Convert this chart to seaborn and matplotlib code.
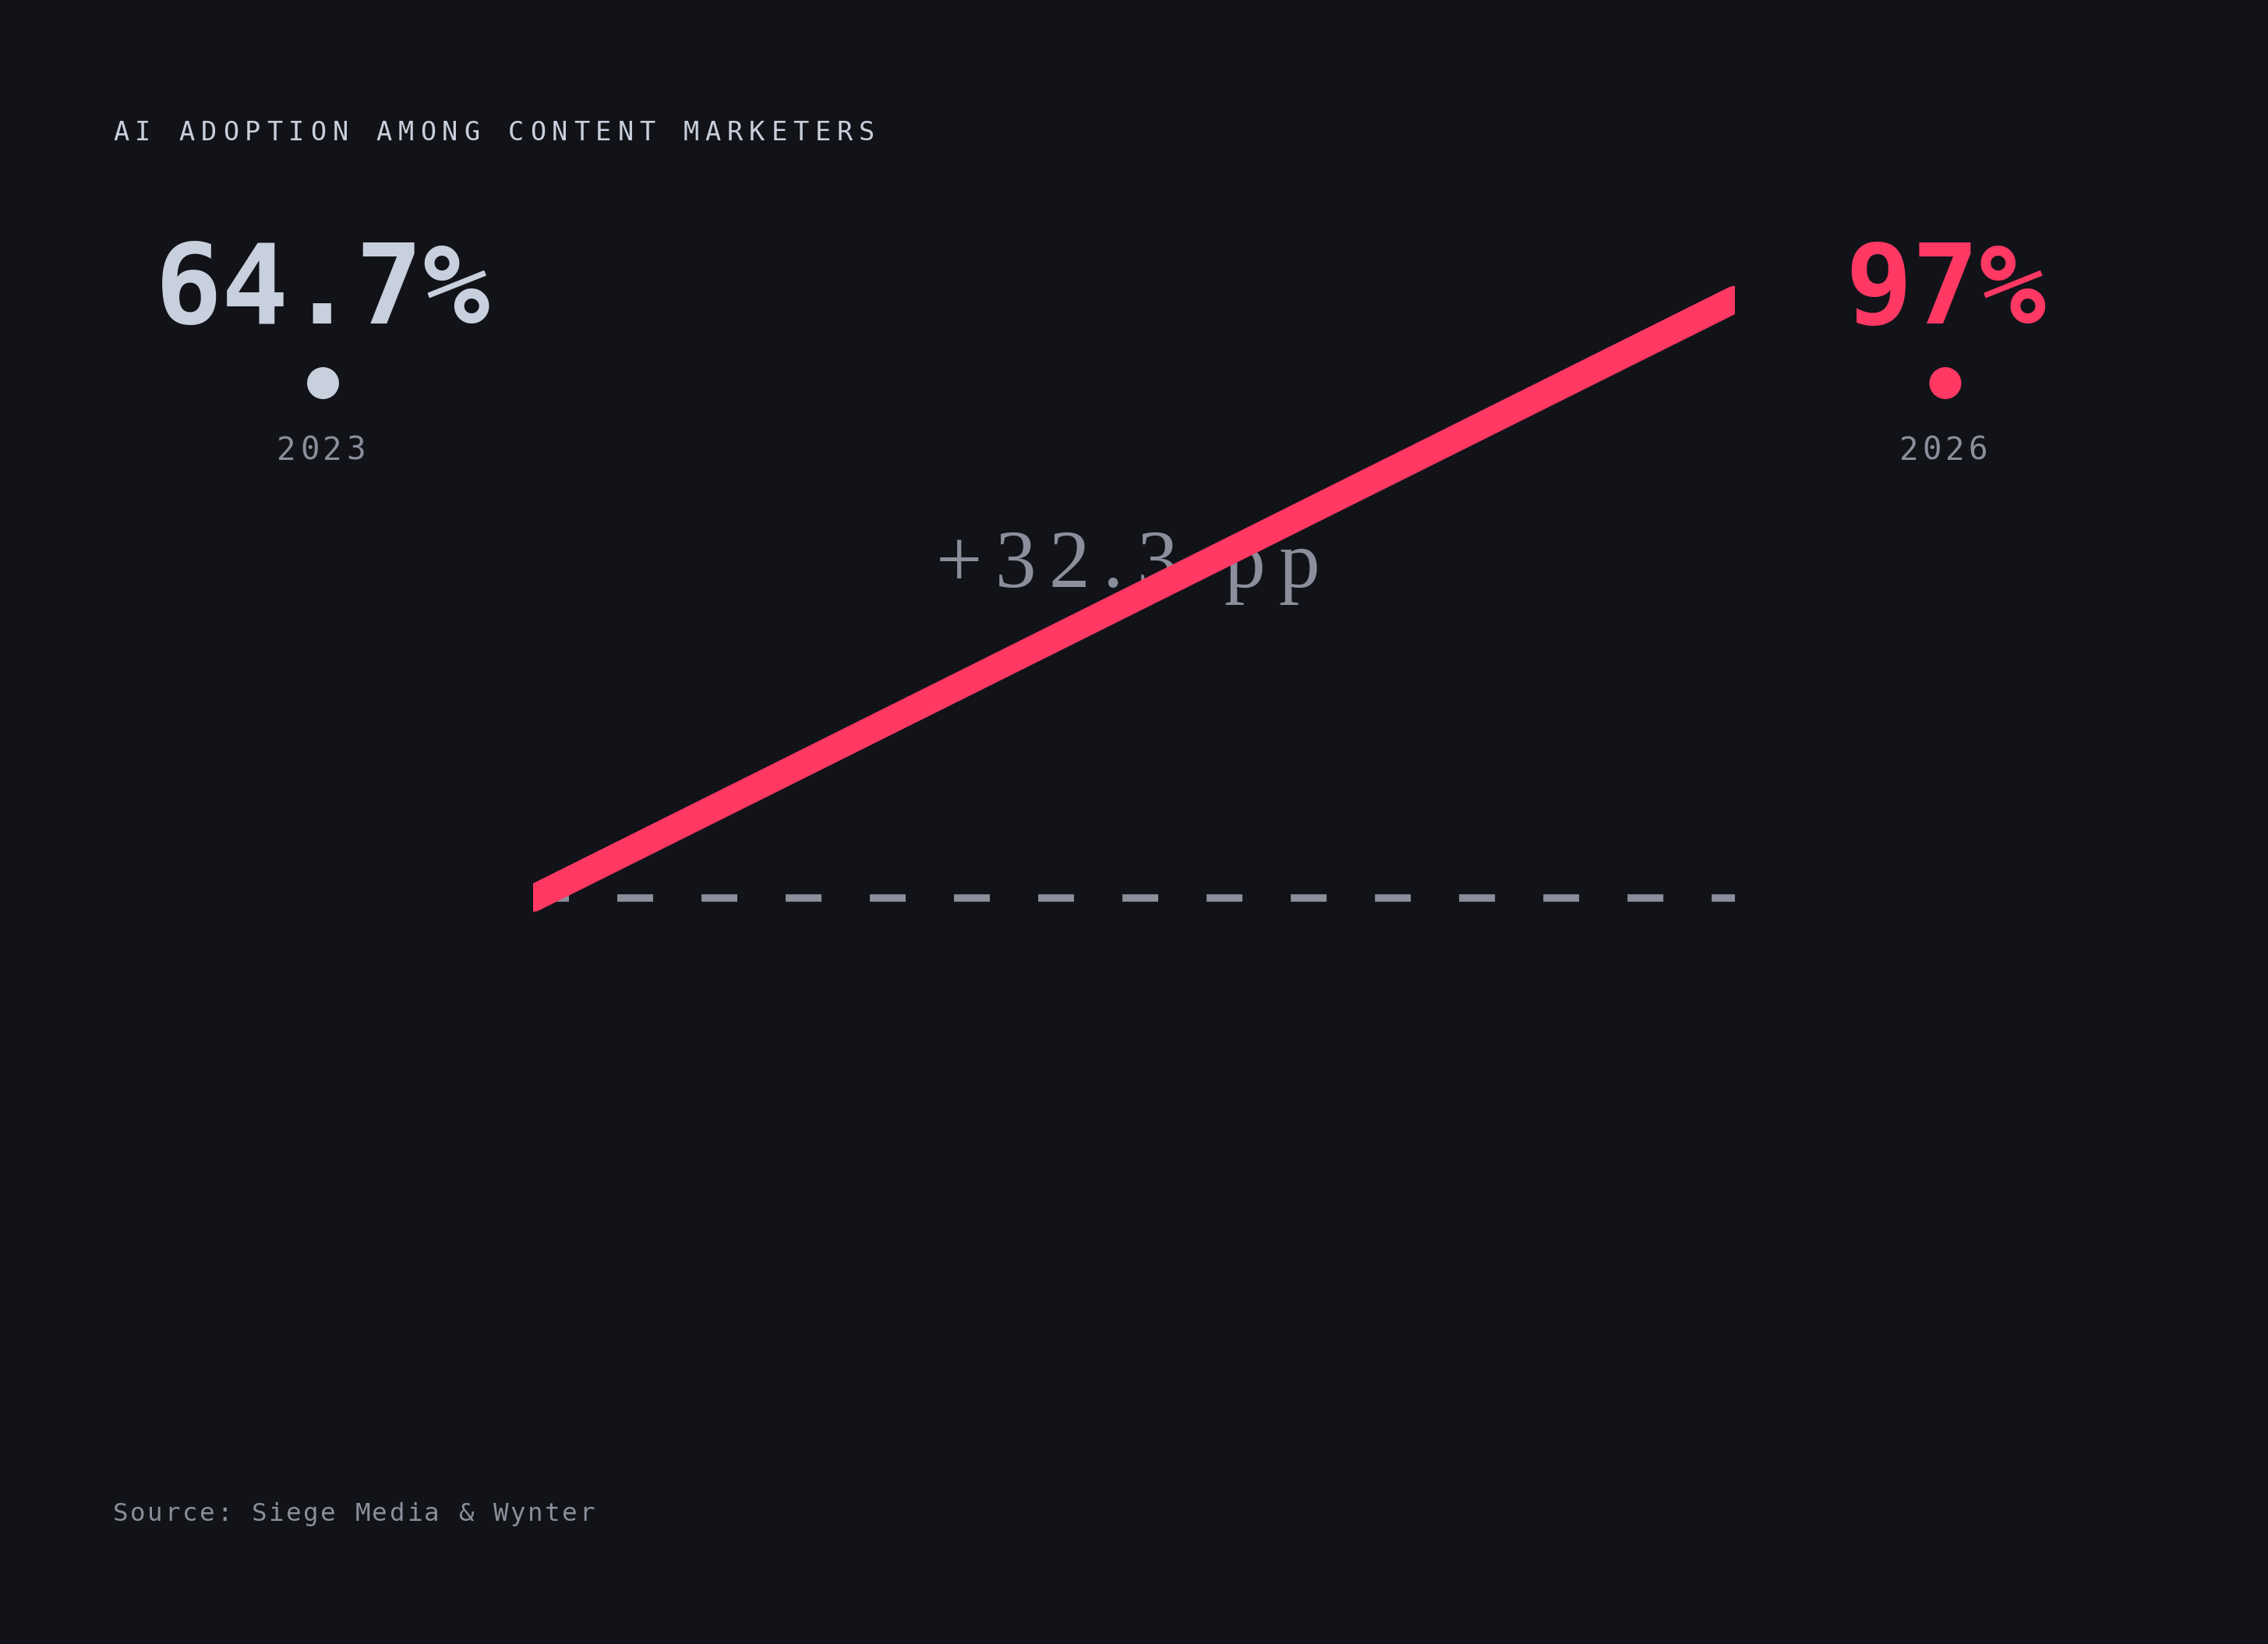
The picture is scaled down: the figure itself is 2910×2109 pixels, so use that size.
import numpy as np
import pandas as pd
import matplotlib
matplotlib.use("Agg")
import matplotlib.pyplot as plt
import seaborn as sns
from matplotlib.font_manager import FontProperties, findfont
from matplotlib.ft2font import FT2Font
from matplotlib.transforms import offset_copy, IdentityTransform

# ---------------- data ----------------
years = [2023, 2026]
adoption = [64.7, 97.0]
value_labels = ["64.7%", "97%"]
year_labels = ["2023", "2026"]
title_text = "AI ADOPTION AMONG CONTENT MARKETERS"
source_text = "Source: Siege Media & Wynter"

# ---------------- style ----------------
BG = "#121318"
LIGHT = "#c8cfdd"
GREY = "#8a8f9b"
RED = "#ff3864"
W_PX, H_PX, DPI = 2910, 2109, 100
MONO = "DejaVu Sans Mono"
SERIF = "Liberation Serif"

sns.set_theme(style="dark", rc={"figure.facecolor": BG, "axes.facecolor": BG,
                                "savefig.facecolor": BG})
plt.rcParams["font.family"] = [MONO, "DejaVu Sans"]

fig = plt.figure(figsize=(W_PX / DPI, H_PX / DPI), dpi=DPI)


def advances(text, family, weight, size):
    fp = FontProperties(family=family, weight=weight, size=size)
    f = FT2Font(findfont(fp))
    f.set_size(size, DPI)
    return [f.load_char(ord(c)).linearHoriAdvance / 65536 for c in text]


def tracked(ax, x, y, text, transform, size, tracking, family, color,
            weight="normal", align="left", zorder=2):
    adv = advances(text, family, weight, size)
    total = sum(adv) + tracking * len(adv)
    pos = 0.0 if align == "left" else -total / 2
    for c, a in zip(text, adv):
        if c != " ":
            tr = offset_copy(transform, fig=fig, x=pos + a / 2, y=0, units="dots")
            ax.text(x, y, c, transform=tr, ha="center", va="baseline",
                    fontsize=size, family=family, weight=weight, color=color,
                    zorder=zorder)
        pos += a + tracking


# ---------------- header layer (full figure) ----------------
ax_h = fig.add_axes([0, 0, 1, 1], zorder=0)
px_per_year = (2496 - 414.5) / (years[1] - years[0])
x0 = years[0] - 414.5 / px_per_year
ax_h.set_xlim(x0, x0 + W_PX / px_per_year)
ax_h.set_ylim(H_PX, 0)
ax_h.set_axis_off()

sns.scatterplot(x=years, y=[491.5] * len(years), hue=year_labels,
                palette=[LIGHT, RED], s=871, linewidth=0, legend=False, ax=ax_h)
ax_h.set_xlim(x0, x0 + W_PX / px_per_year)
ax_h.set_ylim(H_PX, 0)

for yr, lab, col in zip(years, value_labels, [LIGHT, RED]):
    ax_h.text(yr, 415, lab, ha="center", va="baseline", fontsize=103,
              weight="bold", family=MONO, color=col)
for yr, lab in zip(years, year_labels):
    tracked(ax_h, yr, 589.5, lab, ax_h.transData, 29.4, 4.9, MONO, GREY,
            align="center")

tracked(ax_h, 145, H_PX - 180, title_text, IdentityTransform(), 24.2, 7.9,
        MONO, LIGHT, align="left")
tracked(ax_h, 145, H_PX - 1951, source_text, IdentityTransform(), 23.4, 2.6,
        MONO, GREY, align="left")

# ---------------- main chart ----------------
top_px, bot_px = 312.6, 1264.3
ax = fig.add_axes([684 / W_PX, (H_PX - bot_px) / H_PX, 1541.7 / W_PX,
                   (bot_px - top_px) / H_PX], zorder=1)
ax.patch.set_alpha(0)

ax.axhline(adoption[0], color=GREY, linewidth=6.84,
           linestyle=(0, (4.84, 6.53)), dash_capstyle="butt", zorder=1)
sns.lineplot(x=years, y=adoption, color=RED, linewidth=24.8,
             solid_capstyle="round", ax=ax, zorder=3)
ax.set_xlim(years[0], years[1])
ax.set_ylim(60, 100)
ax.set_axis_off()

delta = adoption[1] - adoption[0]
tracked(ax, np.mean(years), 81.49, f"+{delta:.1f} pp", ax.transData, 75.9,
        16.7, SERIF, GREY, align="center", zorder=2)

fig.savefig("out.png", dpi=DPI, facecolor=BG)
